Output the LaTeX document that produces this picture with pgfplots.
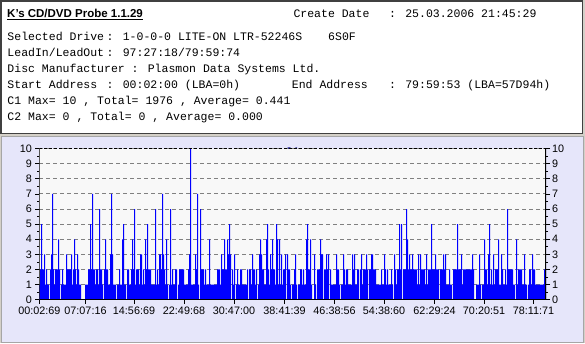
\documentclass[border=0pt]{standalone}
\usepackage{pgfplots}
\pgfplotsset{compat=1.18}
\usepackage{fontspec}
\setmainfont{Liberation Sans}
\newfontfamily\mono{Liberation Mono}
\definecolor{panel}{RGB}{230,230,250}
\definecolor{plotbg}{RGB}{248,248,248}
\definecolor{win}{RGB}{212,208,200}
\definecolor{gridc}{RGB}{128,128,128}
\definecolor{boxborder}{RGB}{64,64,64}
\definecolor{navytitle}{RGB}{0,0,128}
\begin{document}
\begin{tikzpicture}[x=1bp,y=1bp]
\fill[win] (0,0) rectangle (585,343);
\filldraw[fill=white, draw=boxborder, line width=1.2bp] (1,342) rectangle (582.5,209.5);
\filldraw[fill=panel, draw=gray!70, line width=1bp] (1,206.5) rectangle (583.5,1);
\node[anchor=base west, inner sep=0, font=\fontsize{11.5bp}{13bp}\selectfont\bfseries] (t) at (7,325.7) {K\char"27 s CD/DVD Probe 1.1.29};
\draw[line width=1bp] ([yshift=-2bp]t.base west) -- ([yshift=-2bp]t.base east);
\begin{scope}[every node/.style={anchor=base west, inner sep=0, font=\mono\fontsize{11.5bp}{13bp}\selectfont}]
\node at (293.3,326) {Create Date};
\node at (389,326) {: 25.03.2006 21:45:29};
\node at (7.3,302.3) {Selected Drive};
\node at (106.5,302.3) {: 1-0-0-0 LITE-ON LTR-52246S};
\node at (328,302.3) {6S0F};
\node at (7.3,286.3) {LeadIn/LeadOut};
\node at (106.5,286.3) {: 97:27:18/79:59:74};
\node at (7.3,270.3) {Disc Manufacturer : Plasmon Data Systems Ltd.};
\node at (7.3,254.7) {Start Address};
\node at (106.5,254.7) {: 00:02:00 (LBA=0h)};
\node at (291.7,254.7) {End Address};
\node at (389,254.7) {: 79:59:53 (LBA=57D94h)};
\node at (7.3,239) {C1 Max= 10 , Total= 1976 , Average= 0.441};
\node at (7.3,223) {C2 Max= 0 , Total= 0 , Average= 0.000};
\end{scope}
\node[anchor=center, inner sep=0, text=navytitle, font=\mono\bfseries\fontsize{11.5bp}{13bp}\selectfont] at (292.6,191) {C1};
\begin{axis}[
  at={(39.3,28.7)}, anchor=south west,
  scale only axis, width=506.7bp, height=151bp,
  xmin=39.3, xmax=546, ymin=0, ymax=10,
  axis background/.style={fill=plotbg},
  axis line style={draw=none},
  ytick={0,...,10}, minor y tick num=1,
  xtick={39.3,85.5,134,184,234,284.5,334.5,384,434.5,484,533.5},
  xticklabels={00:02:69,07:07:16,14:56:69,22:49:68,30:47:00,38:41:39,46:38:56,54:38:60,62:29:24,70:20:51,78:11:71},
  minor x tick num=3,
  xtick pos=bottom, ytick pos=left,
  tick align=outside,
  major tick length=4bp, minor tick length=2bp,
  tick style={black, line width=0.8bp},
  ymajorgrids, grid style={gridc, dash pattern=on 4bp off 3bp, line width=1bp},
  ticklabel style={font=\fontsize{10.8bp}{12bp}\selectfont},
  /pgf/number format/assume math mode=true,
]
\addplot[const plot, fill=blue, draw=none] coordinates {
(39,1)(40,2)(41,5)(42,2)(44,3)(45,1)(46,2)(47,1)(49,0)(50,2)(51,3)(52,7)(53,2)(54,1)(55,2)(58,4)(59,2)(60,0)(61,1)(62,2)(63,1)(66,3)(67,2)(71,3)(72,1)(73,2)(74,4)(75,2)(76,1)(77,3)(78,2)(79,1)(81,0)(85,1)(88,2)(90,5)(91,2)(92,7)(93,2)(95,1)(96,2)(98,1)(99,6)(100,2)(102,1)(103,0)(104,2)(105,4)(106,2)(108,1)(110,3)(111,7)(112,3)(113,1)(116,0)(117,1)(119,2)(120,1)(122,4)(123,5)(124,1)(126,0)(127,2)(129,1)(131,2)(132,4)(133,2)(134,6)(135,1)(136,2)(139,1)(140,3)(142,1)(143,2)(144,1)(145,4)(146,2)(147,5)(148,2)(151,1)(155,6)(156,1)(157,2)(158,1)(159,3)(161,2)(162,7)(163,3)(164,2)(165,1)(166,4)(167,1)(168,0)(169,1)(170,6)(171,1)(172,2)(173,1)(175,2)(177,0)(178,1)(179,2)(184,1)(188,2)(189,3)(190,10)(191,1)(195,3)(196,2)(197,7)(198,1)(199,0)(200,6)(201,2)(204,1)(205,2)(206,1)(209,4)(210,1)(217,2)(220,1)(221,3)(222,2)(224,4)(225,2)(227,4)(228,3)(229,5)(230,3)(231,0)(232,2)(233,1)(234,3)(235,0)(236,1)(237,2)(238,1)(240,2)(242,1)(247,2)(248,0)(249,2)(251,1)(252,3)(253,2)(255,1)(256,2)(257,0)(258,1)(259,3)(260,4)(261,3)(262,2)(264,1)(266,4)(267,5)(268,2)(269,1)(270,3)(271,2)(272,4)(273,2)(275,1)(276,5)(277,4)(278,1)(279,4)(280,1)(281,3)(282,1)(283,2)(285,3)(286,0)(287,3)(288,2)(290,1)(291,0)(292,1)(294,2)(295,3)(296,1)(297,0)(298,1)(300,2)(302,1)(303,2)(304,1)(306,4)(307,5)(308,2)(310,4)(311,1)(312,0)(314,3)(315,1)(316,0)(317,2)(320,4)(321,3)(323,0)(324,2)(326,3)(327,2)(328,3)(329,0)(330,2)(331,1)(336,3)(337,2)(339,1)(340,0)(341,1)(343,3)(344,2)(345,1)(346,2)(348,1)(352,3)(353,2)(354,3)(355,1)(357,2)(359,0)(360,2)(361,3)(362,1)(363,2)(366,3)(367,2)(368,0)(369,2)(371,3)(373,2)(376,1)(381,2)(382,1)(384,3)(385,2)(386,1)(387,2)(388,1)(391,2)(392,1)(393,0)(394,3)(395,2)(396,1)(397,2)(399,5)(400,2)(401,5)(402,0)(403,2)(406,6)(407,4)(408,2)(409,3)(410,2)(412,3)(413,2)(417,1)(418,3)(419,1)(420,3)(421,2)(425,1)(426,3)(427,1)(428,2)(431,5)(432,2)(435,3)(436,2)(439,0)(440,2)(443,3)(444,2)(445,3)(446,1)(449,2)(450,1)(452,0)(453,2)(457,5)(458,2)(461,3)(462,1)(463,2)(472,3)(473,2)(474,0)(476,1)(479,3)(480,1)(481,0)(482,1)(484,4)(485,2)(487,1)(488,3)(489,5)(490,1)(491,2)(492,1)(493,3)(494,1)(495,2)(498,4)(499,1)(501,3)(502,2)(503,1)(505,2)(506,1)(507,6)(508,2)(513,1)(515,0)(516,4)(517,1)(518,2)(522,1)(524,3)(525,1)(527,0)(528,1)(529,2)(531,1)(532,3)(533,2)(535,1)(544,2)(546,2)
} \closedcycle;
\draw[black, line width=2bp] (rel axis cs:0,1) -- (rel axis cs:0,0) -- (rel axis cs:1,0) -- (rel axis cs:1,1);
\draw[black, line width=1bp, dash pattern=on 3bp off 2bp] (rel axis cs:0,1) -- (rel axis cs:1,1);
\end{axis}
\begin{axis}[
  at={(39.3,28.7)}, anchor=south west,
  scale only axis, width=506.7bp, height=151bp,
  xmin=39.3, xmax=546, ymin=0, ymax=10,
  hide x axis,
  axis y line*=right,
  axis line style={draw=none},
  ytick={0,...,10}, minor y tick num=1,
  tick align=outside,
  major tick length=4bp, minor tick length=2bp,
  tick style={black, line width=0.8bp},
  ticklabel style={font=\fontsize{10.8bp}{12bp}\selectfont},
  yticklabel style={xshift=-1.5bp},
  /pgf/number format/assume math mode=true,
]
\end{axis}
\end{tikzpicture}
\end{document}
